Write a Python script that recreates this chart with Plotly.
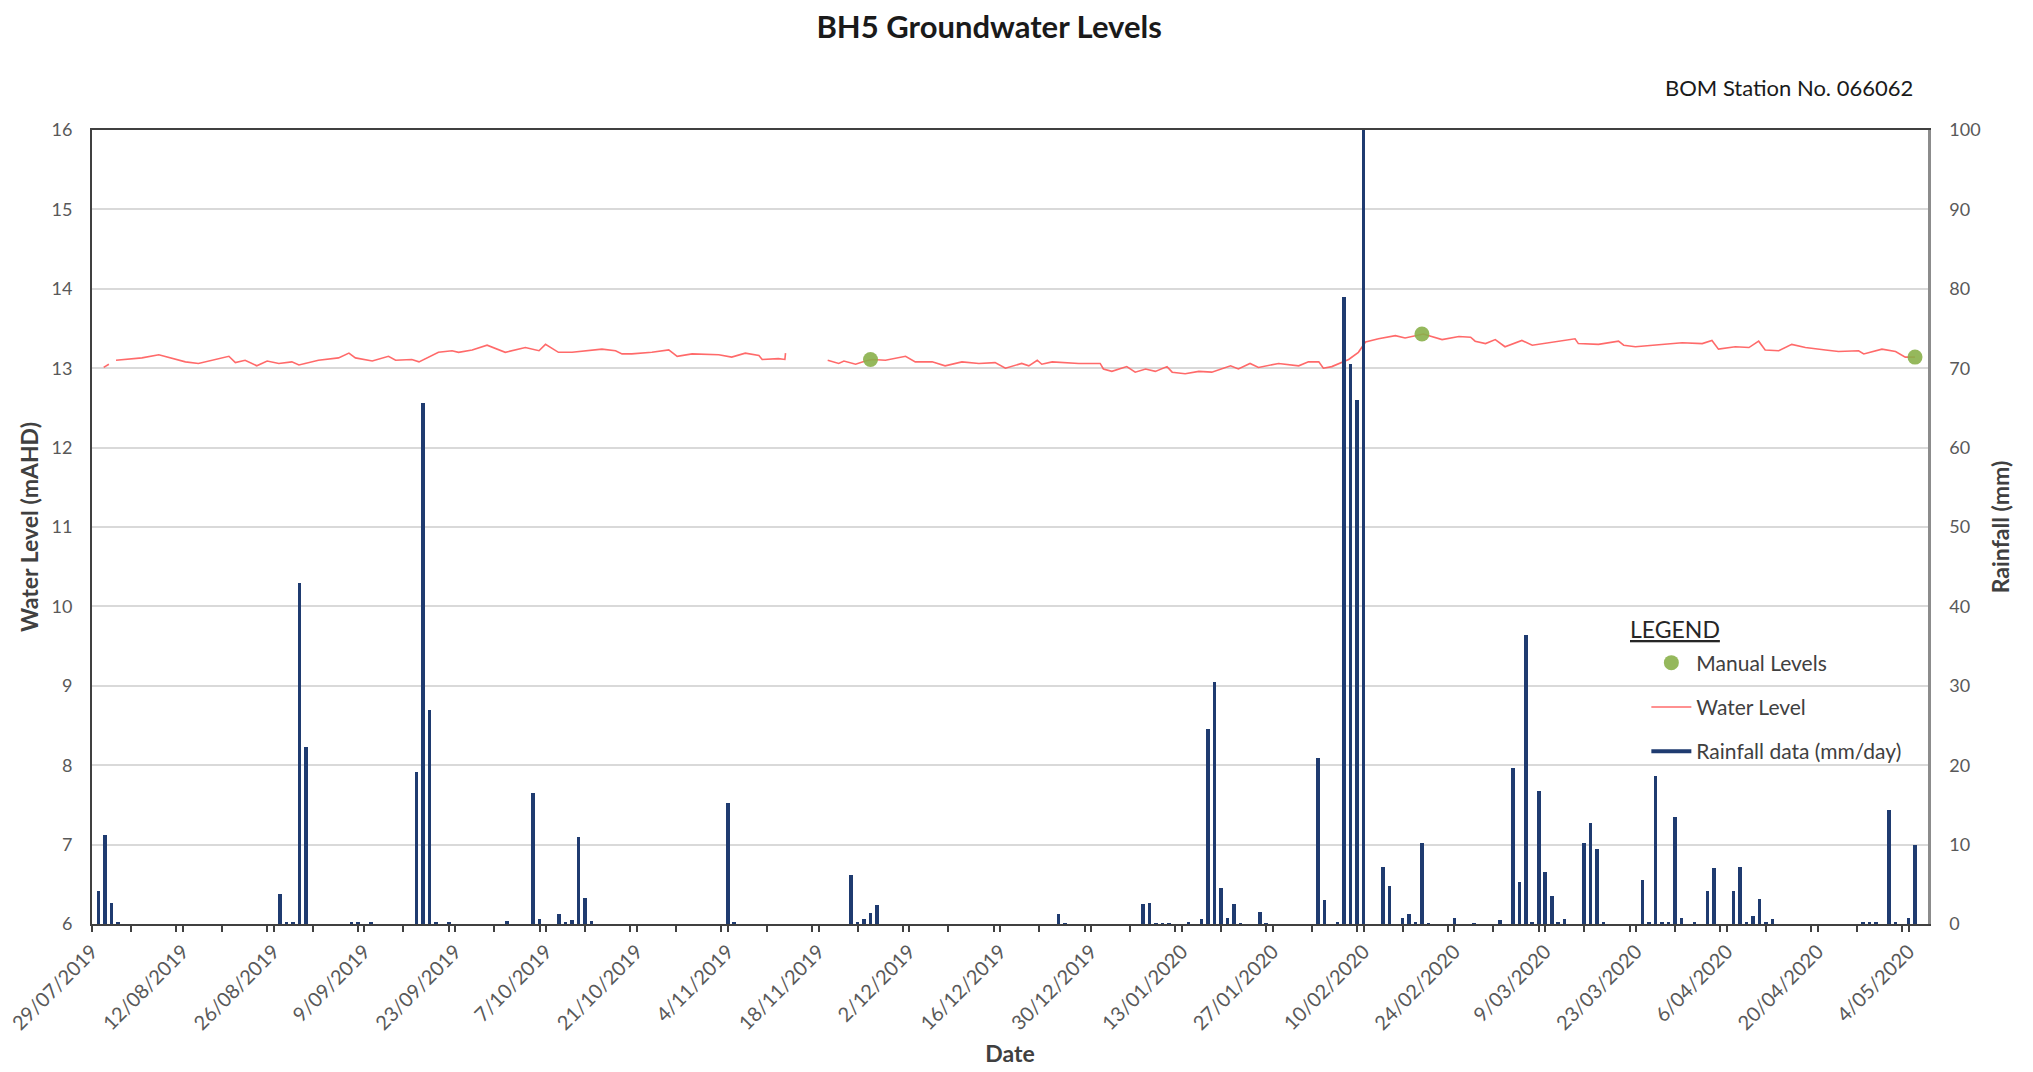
import plotly.graph_objects as go
import pandas as pd

START = "2019-07-29"
END = "2020-05-07"

# Logger water level: elapsed days since START and level (mAHD); None = logger gap
wl_days = [1.8, 2.3, 2.6, 3.1,
           3.7, 5.1, 7.7, 10.3, 12.3, 14.4, 16.4, 18.5, 21.1, 22.1, 23.6, 25.4, 27.0, 28.8,
           30.8, 31.9, 34.9, 38.0, 39.6, 40.6, 43.2, 45.7, 46.8, 49.3, 50.4, 53.4, 55.5,
           56.5, 58.6, 60.9, 63.7, 66.8, 68.9, 69.9, 71.9, 74.0, 76.0, 78.6, 80.7, 81.7,
           83.2, 86.3, 88.9, 90.2, 92.5, 96.6, 98.6, 100.7, 102.8, 103.3, 105.8, 106.8, 106.9,
           110.0,
           113.4, 115.1, 115.9, 117.7, 119.2, 120.3, 122.3, 125.4, 126.9, 129.5, 131.5,
           134.1, 136.7, 139.2, 140.8, 143.3, 144.4, 145.7, 146.4, 148.0, 152.1, 155.4,
           155.9, 157.2, 159.5, 160.8, 162.4, 163.9, 165.7, 166.5, 168.5, 170.6, 172.6,
           175.5, 176.7, 178.5, 179.8, 182.9, 186.0, 187.5, 189.1, 189.8, 191.1, 192.4,
           193.7, 195.2, 196.3, 198.3, 200.9, 202.4, 205.2, 208.1, 210.7, 212.5, 213.2,
           214.8, 216.3, 217.8, 220.4, 222.0, 225.0, 228.6, 229.1, 232.2, 235.3, 236.1,
           237.9, 241.0, 245.1, 248.2, 249.7, 250.7, 253.3, 255.4, 256.9, 257.9, 260.0,
           262.0, 264.1, 267.2, 269.2, 272.3, 273.1, 275.9, 278.0, 279.5, 281.0]
wl_level = [13.01, 13.04, 13.05, None,
            13.10, 13.11, 13.13, 13.17, 13.13, 13.08, 13.06, 13.10, 13.15, 13.07, 13.10, 13.03, 13.09, 13.06,
            13.08, 13.04, 13.10, 13.13, 13.19, 13.13, 13.09, 13.15, 13.10, 13.11, 13.08, 13.20, 13.22,
            13.20, 13.23, 13.29, 13.20, 13.26, 13.22, 13.30, 13.20, 13.20, 13.22, 13.24, 13.22, 13.18,
            13.18, 13.20, 13.23, 13.15, 13.18, 13.17, 13.14, 13.19, 13.16, 13.11, 13.12, 13.11, 13.19,
            None,
            13.10, 13.06, 13.09, 13.05, 13.09, 13.11, 13.10, 13.15, 13.08, 13.08, 13.03,
            13.08, 13.06, 13.07, 13.00, 13.06, 13.03, 13.10, 13.05, 13.08, 13.06, 13.06,
            12.99, 12.96, 13.02, 12.95, 12.99, 12.96, 13.02, 12.95, 12.93, 12.96, 12.95,
            13.03, 12.99, 13.06, 13.01, 13.06, 13.03, 13.08, 13.08, 13.00, 13.02, 13.06,
            13.11, 13.20, 13.33, 13.37, 13.41, 13.38, 13.43, 13.36, 13.40, 13.39, 13.34,
            13.31, 13.36, 13.27, 13.35, 13.29, 13.33, 13.37, 13.31, 13.30, 13.34, 13.29,
            13.27, 13.29, 13.32, 13.31, 13.35, 13.24, 13.27, 13.26, 13.34, 13.23, 13.22,
            13.30, 13.26, 13.23, 13.21, 13.22, 13.18, 13.24, 13.21, 13.14, 13.14]

# Manual dip readings
manual_dates = ["2019-11-26", "2020-02-19", "2020-05-05"]
manual_level = [13.11, 13.43, 13.14]

# Daily rainfall (mm), BOM station 066062
rain_dates = ["2019-07-30", "2019-07-31", "2019-08-01", "2019-08-02", "2019-08-27", "2019-08-28",
              "2019-08-29", "2019-08-30", "2019-08-31", "2019-09-07", "2019-09-08", "2019-09-10",
              "2019-09-17", "2019-09-18", "2019-09-19", "2019-09-20", "2019-09-22", "2019-10-01",
              "2019-10-05", "2019-10-06", "2019-10-09", "2019-10-10", "2019-10-11", "2019-10-12",
              "2019-10-13", "2019-10-14", "2019-11-04", "2019-11-05", "2019-11-23", "2019-11-24",
              "2019-11-25", "2019-11-26", "2019-11-27", "2019-12-25", "2019-12-26", "2020-01-07",
              "2020-01-08", "2020-01-09", "2020-01-10", "2020-01-11", "2020-01-14", "2020-01-16",
              "2020-01-17", "2020-01-18", "2020-01-19", "2020-01-20", "2020-01-21", "2020-01-22",
              "2020-01-25", "2020-01-26", "2020-02-03", "2020-02-04", "2020-02-06", "2020-02-07",
              "2020-02-08", "2020-02-09", "2020-02-10", "2020-02-13", "2020-02-14", "2020-02-16",
              "2020-02-17", "2020-02-18", "2020-02-19", "2020-02-20", "2020-02-24", "2020-02-27",
              "2020-03-02", "2020-03-04", "2020-03-05", "2020-03-06", "2020-03-07", "2020-03-08",
              "2020-03-09", "2020-03-10", "2020-03-11", "2020-03-12", "2020-03-15", "2020-03-16",
              "2020-03-17", "2020-03-18", "2020-03-24", "2020-03-25", "2020-03-26", "2020-03-27",
              "2020-03-28", "2020-03-29", "2020-03-30", "2020-04-01", "2020-04-03", "2020-04-04",
              "2020-04-07", "2020-04-08", "2020-04-09", "2020-04-10", "2020-04-11", "2020-04-12",
              "2020-04-13", "2020-04-27", "2020-04-28", "2020-04-29", "2020-05-01", "2020-05-02",
              "2020-05-04", "2020-05-05"]
rain_mm = [4.1, 11.2, 2.7, 0.2, 3.8, 0.3,
           0.2, 42.9, 22.3, 0.2, 0.2, 0.2,
           19.2, 65.6, 26.9, 0.2, 0.2, 0.4,
           16.5, 0.6, 1.2, 0.3, 0.5, 11.0,
           3.3, 0.4, 15.3, 0.2, 6.2, 0.3,
           0.6, 1.4, 2.4, 1.3, 0.1, 2.5,
           2.7, 0.1, 0.1, 0.1, 0.2, 0.6,
           24.5, 30.5, 4.5, 0.7, 2.5, 0.1,
           1.5, 0.1, 20.9, 3.0, 0.3, 79.0,
           70.5, 66.0, 100.0, 7.2, 4.8, 0.8,
           1.3, 0.3, 10.2, 0.1, 0.7, 0.1,
           0.5, 19.6, 5.3, 36.4, 0.2, 16.8,
           6.6, 3.5, 0.3, 0.6, 10.2, 12.7,
           9.5, 0.2, 5.5, 0.2, 18.6, 0.2,
           0.2, 13.5, 0.8, 0.2, 4.2, 7.0,
           4.2, 7.2, 0.2, 1.0, 3.2, 0.3,
           0.6, 0.3, 0.2, 0.2, 14.3, 0.2,
           0.7, 9.9]

DAY_MS = 86400000
RAIN_BLUE = "#1F3B70"
LINE_RED = "rgba(255,80,80,0.85)"
GREEN = "#8AB04A"
FONT = "Lato"

wl_x = pd.to_datetime(START) + pd.to_timedelta(wl_days, unit="D")

fig = go.Figure()

fig.add_trace(go.Scatter(
    x=wl_x, y=wl_level, mode="lines", name="Water Level",
    line=dict(color=LINE_RED, width=1.6), connectgaps=False,
    legendgroup="wl", legendrank=2,
))
fig.add_trace(go.Scatter(
    x=manual_dates, y=manual_level, mode="markers", name="Manual Levels",
    marker=dict(color=GREEN, size=15, opacity=0.9),
    legendgroup="man", legendrank=1,
))
fig.add_trace(go.Bar(
    x=rain_dates, y=rain_mm, yaxis="y2", name="Rainfall data (mm/day)",
    marker=dict(color=RAIN_BLUE, line=dict(width=0)), width=0.55 * DAY_MS,
    showlegend=False,
))
fig.add_trace(go.Scatter(
    x=[None], y=[None], yaxis="y2", mode="lines", name="Rainfall data (mm/day)",
    line=dict(color=RAIN_BLUE, width=4), legendgroup="rain", legendrank=3,
))

fig.update_layout(
    width=2033, height=1072,
    margin=dict(l=84, r=113, t=122, b=156),
    paper_bgcolor="white", plot_bgcolor="white",
    font=dict(family=FONT, color="#595959", size=18),
    title=dict(text="<b>BH5 Groundwater Levels</b>", x=0.4826, xanchor="center",
               y=0.982, yanchor="middle", font=dict(size=31, color="#1a1a1a", family=FONT)),
    showlegend=True,
    legend=dict(x=0.8466, y=0.3545, xanchor="left", yanchor="top",
                bgcolor="rgba(0,0,0,0)", font=dict(size=21, color="#404040"),
                traceorder="grouped", tracegroupgap=14, itemwidth=40),
    bargap=0,
    xaxis=dict(
        type="date", range=[START, END], automargin=False,
        tick0=START, dtick=14 * DAY_MS, tickformat="%-d/%m/%Y", tickangle=-45,
        ticks="outside", ticklen=6, tickcolor="#404040", tickwidth=1.5,
        minor=dict(dtick=7 * DAY_MS, ticks="outside", ticklen=6, tickcolor="#404040", tickwidth=1.5, showgrid=False),
        showline=True, linecolor="#404040", linewidth=2, mirror=True,
        showgrid=False, tickfont=dict(size=20, color="#595959"), ticklabeloverflow="allow",
        title=dict(text="<b>Date</b>", font=dict(size=23, color="#404040"), standoff=13),
    ),
    yaxis=dict(
        range=[6, 16], dtick=1, showgrid=True, gridcolor="#D9D9D9", gridwidth=1.5,
        showline=True, linecolor="#404040", linewidth=2, ticks="", ticklabelstandoff=14,
        tickfont=dict(size=18, color="#595959"), zeroline=False,
        title=dict(text="<b>Water Level (mAHD)</b>", font=dict(size=23, color="#404040"), standoff=6),
    ),
    yaxis2=dict(
        range=[0, 100], dtick=10, overlaying="y", side="right", showgrid=False,
        showline=True, linecolor="#8C8C8C", linewidth=2.5, ticks="", zeroline=False,
        ticklabelstandoff=15,
        tickfont=dict(size=18, color="#595959"),
        title=dict(text="<b>Rainfall (mm)</b>", font=dict(size=23, color="#404040"), standoff=14),
    ),
    annotations=[
        dict(text="BOM Station No. 066062", xref="paper", yref="paper", x=0.993, y=1.054,
             xanchor="right", yanchor="middle", showarrow=False,
             font=dict(size=22, color="#1a1a1a", family=FONT)),
        dict(text="<u>LEGEND</u>", xref="paper", yref="paper", x=0.8366, y=0.372,
             xanchor="left", yanchor="middle", showarrow=False,
             font=dict(size=23, color="#262626", family=FONT)),
    ],
)

fig.write_html("out.html")
